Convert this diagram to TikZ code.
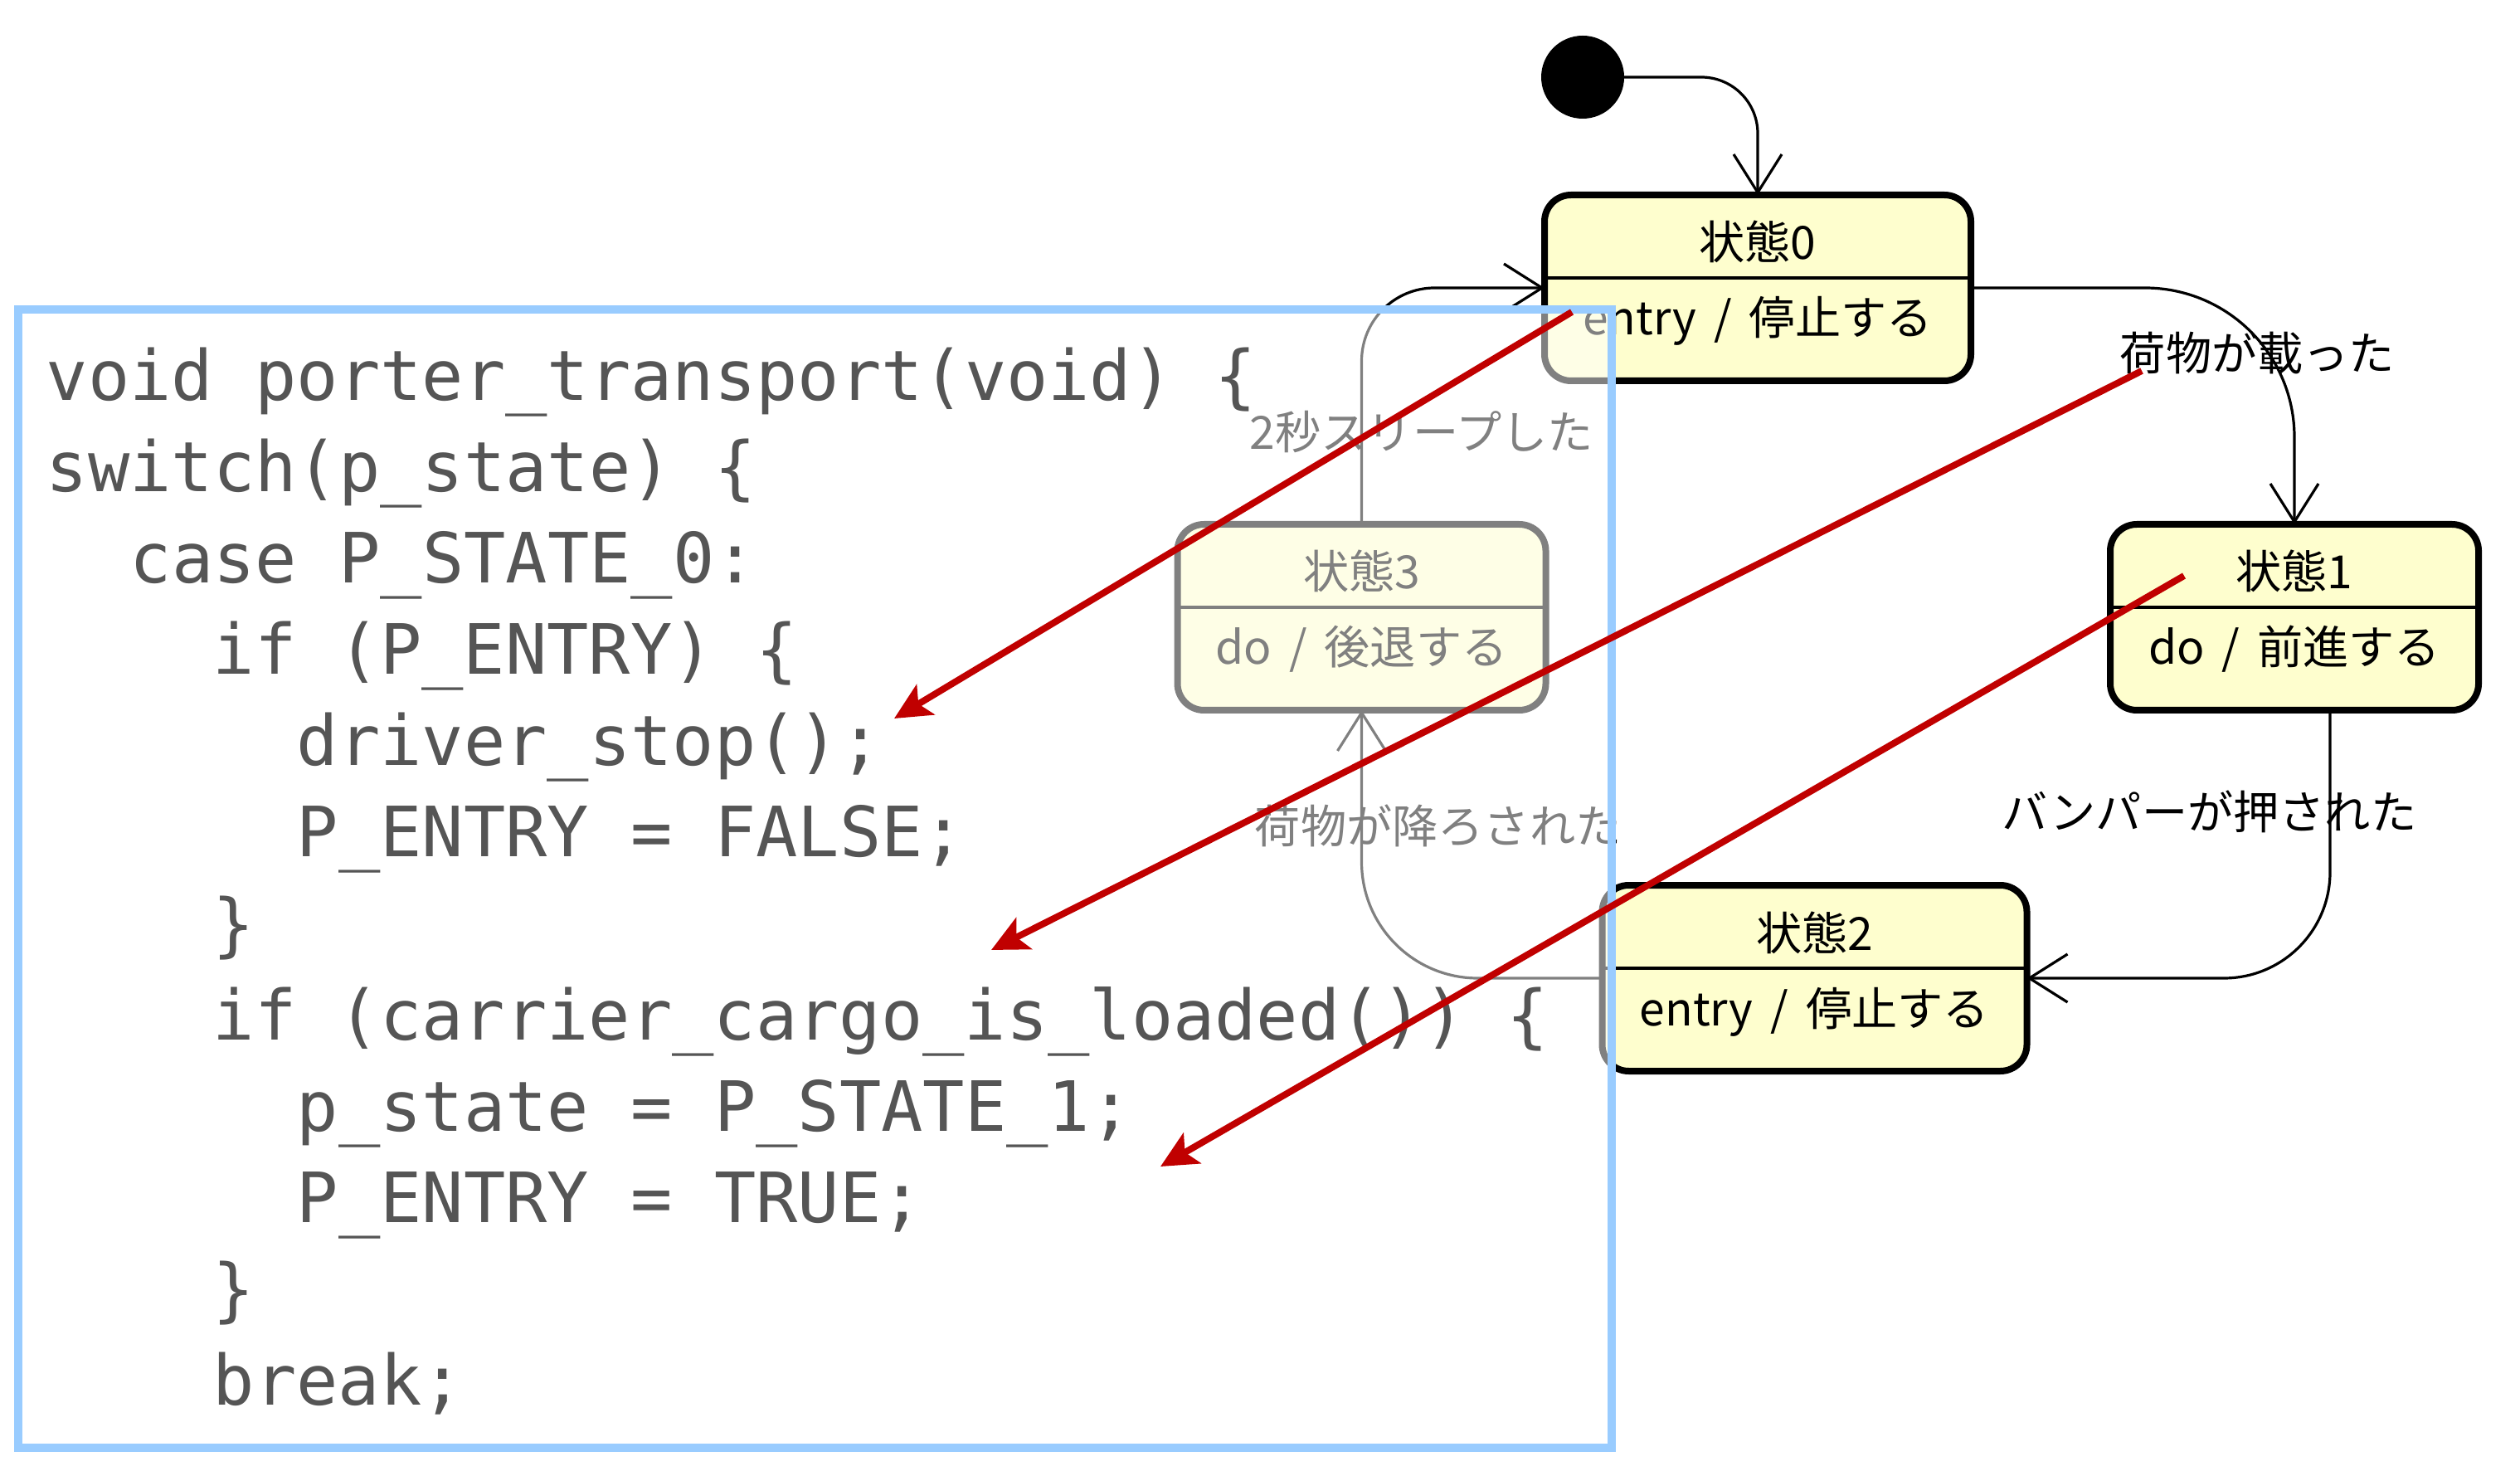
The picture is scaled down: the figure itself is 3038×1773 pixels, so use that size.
\documentclass[tikz,border=0pt]{standalone}
\usepackage{fontspec}
\setmainfont{Noto Sans CJK JP}
\setmonofont{DejaVu Sans Mono}
\usetikzlibrary{arrows.meta,calc}

\definecolor{umlfill}{HTML}{FEFECE}
\definecolor{codegray}{HTML}{555555}
\definecolor{boxblue}{HTML}{99CCFF}
\definecolor{markred}{HTML}{C00000}

\tikzset{
  statebox/.style={draw, line width=2pt, rounded corners=8pt, fill=umlfill,
    minimum height=56pt, inner sep=0pt, outer sep=0pt},
  divider/.style={line width=1pt},
  statetext/.style={font=\fontsize{13.8}{16}\selectfont, inner sep=0pt},
  startdot/.style={circle, fill=black, minimum size=25pt, inner sep=0pt, outer sep=0pt},
  trans/.style={line width=0.8pt, -{Straight Barb[length=11.5pt,width=14.5pt]}},
  translabel/.style={font=\fontsize{13.8}{16}\selectfont, inner sep=0pt, anchor=base west},
  codebox/.style={draw=boxblue, line width=2.4pt, fill=white, fill opacity=0.5},
  codeline/.style={font=\ttfamily\fontsize{20.9}{26}\selectfont, text=codegray,
    inner sep=0pt, anchor=base west},
  marker/.style={markred, line width=2pt, -{Stealth[length=11pt,width=10.5pt,inset=2.5pt]}},
}

\newcommand{\sep}{\hspace{0.38em}}

% name, position, width, title, action
\newcommand{\statenode}[5]{%
  \node[statebox, minimum width=#3] (#1) at (#2) {};
  \draw[divider] ($(#1.north west)+(0,100)$) -- ($(#1.north east)+(0,100)$);
  \node[statetext, anchor=base] (#1-title) at ($(#1.north)+(0,78)$) {#4};
  \node[statetext, anchor=base] (#1-act) at ($(#1.north)+(0,169)$) {#5};
}

\begin{document}
\begin{tikzpicture}[x=0.25pt, y=-0.25pt]
  \fill[white] (0,0) rectangle (3038,1773);
  \useasboundingbox (0,0) rectangle (3038,1773);

  % states
  \node[startdot] (start) at (1908,93) {};
  \statenode{s0}{2119,347}{128.5pt}{状態0}{entry\sep/\sep{}停止する}
  \statenode{s1}{2766,744}{111pt}{状態1}{do\sep/\sep{}前進する}
  \statenode{s2}{2187.5,1179}{128pt}{状態2}{entry\sep/\sep{}停止する}
  \statenode{s3}{1641.5,744}{111pt}{状態3}{do\sep/\sep{}後退する}

  % transitions
  \draw[trans, rounded corners=17pt] (start.east) -| (s0.north);
  \draw[trans, rounded corners=45pt] (s0.east) -| (s1.north);
  \draw[trans, rounded corners=32pt] ($(s1.south)+(43,0)$) |- (s2.east);
  \draw[trans, rounded corners=35pt] (s2.west) -| (s3.south);
  \draw[trans, rounded corners=22pt] (s3.north) |- (s0.west);

  \node[translabel] (l01) at (2555,447) {荷物が載った};
  \node[translabel] (l12) at (2413,1000) {バンパーが押された};
  \node[translabel] (l23) at (1512,1017) {荷物が降ろされた};
  \node[translabel] (l30) at (1506,542) {2秒スリープした};

  % code
  \draw[codebox] (22,373) rectangle (1943,1745);
  \node[codeline] (code1) at (55,483) {void porter\_transport(void) \{};
  \node[codeline] (code2) at (55,593) {switch(p\_state) \{};
  \node[codeline] (code3) at (156,703) {case P\_STATE\_0:};
  \node[codeline] (code4) at (256,813) {if (P\_ENTRY) \{};
  \node[codeline] (code5) at (357,923) {driver\_stop();};
  \node[codeline] (code6) at (357,1033) {P\_ENTRY = FALSE;};
  \node[codeline] (code7) at (256,1143) {\}};
  \node[codeline] (code8) at (256,1253) {if (carrier\_cargo\_is\_loaded()) \{};
  \node[codeline] (code9) at (357,1363) {p\_state = P\_STATE\_1;};
  \node[codeline] (code10) at (357,1473) {P\_ENTRY = TRUE;};
  \node[codeline] (code11) at (256,1583) {\}};
  \node[codeline] (code12) at (256,1693) {break;};

  % red markers
  \coordinate (m1s) at (1895,376);
  \coordinate (m1e) at (1078,866);
  \coordinate (m2s) at (2582,447);
  \coordinate (m2e) at (1195,1145);
  \coordinate (m3s) at (2633,694);
  \coordinate (m3e) at (1399,1406);
  \draw[marker] (m1s) -- (m1e);
  \draw[marker] (m2s) -- (m2e);
  \draw[marker] (m3s) -- (m3e);
\end{tikzpicture}
\end{document}
